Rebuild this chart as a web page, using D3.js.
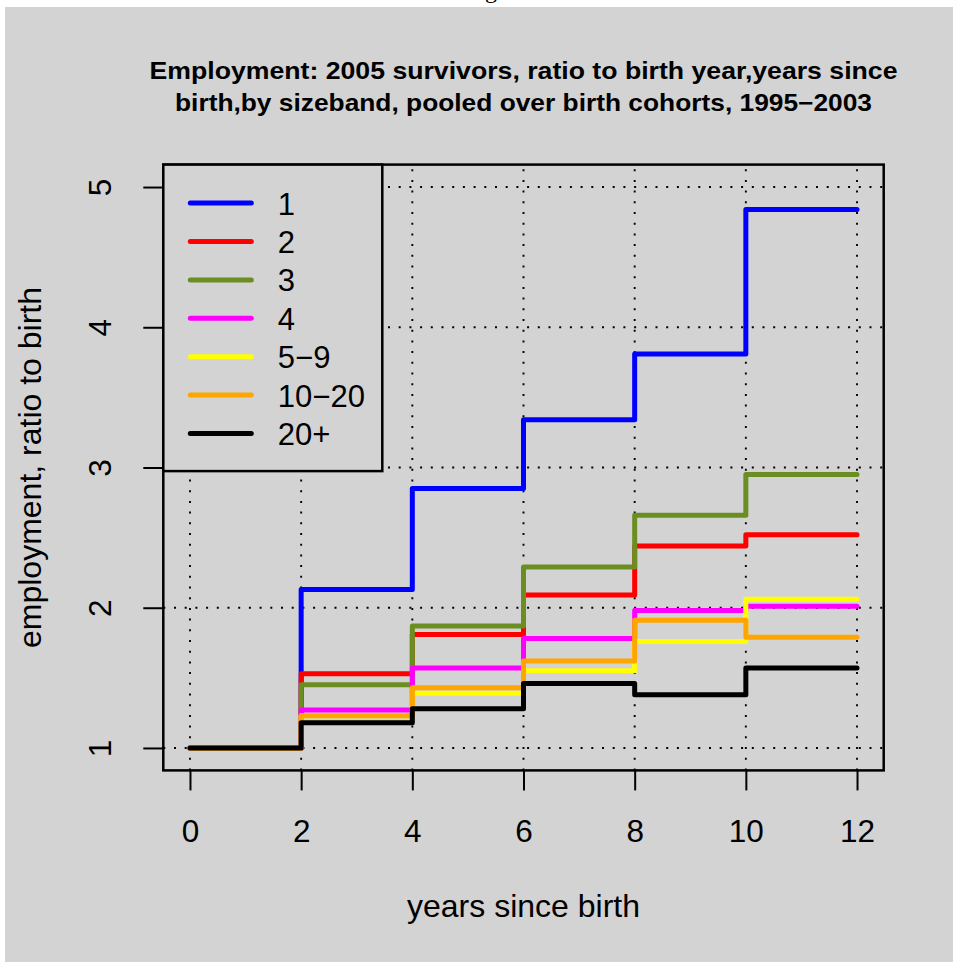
<!DOCTYPE html>
<html>
<head>
<meta charset="utf-8">
<script src="https://cdn.jsdelivr.net/npm/d3@7"></script>
<style>
  html, body { margin: 0; padding: 0; background: #ffffff; }
  svg { display: block; }
  text { font-family: "Liberation Sans", Arial, Helvetica, sans-serif; fill: #000; }
</style>
</head>
<body>
<svg id="chart" width="953" height="962"></svg>
<script>
// Years since birth at which each sizeband is observed
const years = [0, 2, 4, 6, 8, 10, 12];

// Employment ratio to birth year, one array per sizeband
const band1      = [1.00, 2.13, 2.85, 3.34, 3.81, 4.84, 4.84];
const band2      = [1.00, 1.53, 1.81, 2.09, 2.44, 2.52, 2.52];
const band3      = [1.00, 1.45, 1.87, 2.29, 2.66, 2.95, 2.95];
const band4      = [1.00, 1.27, 1.57, 1.78, 1.98, 2.01, 2.01];
const band5to9   = [1.00, 1.23, 1.39, 1.55, 1.76, 2.06, 2.06];
const band10to20 = [1.00, 1.23, 1.43, 1.62, 1.91, 1.79, 1.79];
const band20plus = [1.00, 1.18, 1.28, 1.46, 1.38, 1.57, 1.57];

const sizebandLabels = ["1", "2", "3", "4", "5\u22129", "10\u221220", "20+"];
const sizebandValues = [band1, band2, band3, band4, band5to9, band10to20, band20plus];

const xTickValues = [0, 2, 4, 6, 8, 10, 12];
const yTickValues = [1, 2, 3, 4, 5];

const titleLines = [
  "Employment: 2005 survivors, ratio to birth year,years since",
  "birth,by sizeband, pooled over birth cohorts, 1995\u22122003"
];
const xLabel = "years since birth";
const yLabel = "employment, ratio to birth";

// Line colours, in sizeband order
const lineColours = ["#0000ff", "#ff0000", "#6b8e23", "#ff00ff", "#ffff00", "#ffa500", "#000000"];

// ---- layout ----
const plot = { left: 163.3, right: 883.7, top: 164.6, bottom: 770.4 };
const bg = "#d3d3d3";

const svg = d3.select("#chart");

// figure background
svg.append("rect").attr("x", 5).attr("y", 7).attr("width", 948).attr("height", 955).attr("fill", bg);
// descender of the caption line above the figure
svg.append("text").attr("x", 491).attr("y", -2).attr("text-anchor", "middle")
  .style("font-family", "'Liberation Serif', serif").style("font-size", "24px").text("g");

// scales padded by 4% of the data range on each side
const xExt = [0, 12], yExt = [1, 5];
const xPad = (xExt[1] - xExt[0]) * 0.04, yPad = (yExt[1] - yExt[0]) * 0.04;
const x = d3.scaleLinear().domain([xExt[0] - xPad, xExt[1] + xPad]).range([plot.left, plot.right]);
const y = d3.scaleLinear().domain([yExt[0] - yPad, yExt[1] + yPad]).range([plot.bottom, plot.top]);

// dotted grid
const grid = svg.append("g").attr("stroke", "#000").attr("stroke-width", 1.9)
  .attr("stroke-dasharray", "2,8.7").attr("fill", "none");
grid.selectAll("line.v").data(xTickValues).join("line").attr("class", "v")
  .attr("x1", d => x(d)).attr("x2", d => x(d))
  .attr("y1", plot.bottom).attr("y2", plot.top);
grid.selectAll("line.h").data(yTickValues).join("line").attr("class", "h")
  .attr("x1", plot.left).attr("x2", plot.right)
  .attr("y1", d => y(d)).attr("y2", d => y(d));

// step lines
const line = d3.line()
  .x((d, i) => x(years[i]))
  .y(d => y(d))
  .curve(d3.curveStepAfter);

svg.append("g").selectAll("path").data(sizebandValues).join("path")
  .attr("d", d => line(d))
  .attr("fill", "none")
  .attr("stroke", (d, i) => lineColours[i])
  .attr("stroke-width", 5)
  .attr("stroke-linejoin", "round")
  .attr("stroke-linecap", "round");

// axes
const xAxis = svg.append("g").attr("transform", `translate(0,${plot.bottom})`)
  .call(d3.axisBottom(x).tickValues(xTickValues).tickSize(20).tickFormat(d3.format("d")));
xAxis.select(".domain").remove();
xAxis.selectAll(".tick line").attr("stroke", "#000").attr("stroke-width", 2);
xAxis.selectAll(".tick text").attr("y", 71.3).attr("dy", null)
  .style("font-size", "31.5px").attr("fill", "#000");

const yAxis = svg.append("g").attr("transform", `translate(${plot.left},0)`)
  .call(d3.axisLeft(y).tickValues(yTickValues).tickSize(20).tickFormat(d3.format("d")));
yAxis.select(".domain").remove();
yAxis.selectAll(".tick line").attr("stroke", "#000").attr("stroke-width", 2);
yAxis.selectAll(".tick text")
  .attr("x", null).attr("dy", null).attr("y", null)
  .attr("text-anchor", "middle")
  .attr("transform", "translate(-52,0) rotate(-90)")
  .style("font-size", "31.5px").attr("fill", "#000");

// plot frame
svg.append("rect")
  .attr("x", plot.left).attr("y", plot.top)
  .attr("width", plot.right - plot.left).attr("height", plot.bottom - plot.top)
  .attr("fill", "none").attr("stroke", "#000").attr("stroke-width", 2.5);

// legend
const legend = { left: plot.left, top: plot.top, width: 219, height: 306.5, rowStart: 38.5, rowStep: 38.4 };
const lg = svg.append("g");
lg.append("rect").attr("x", legend.left).attr("y", legend.top)
  .attr("width", legend.width).attr("height", legend.height)
  .attr("fill", bg).attr("stroke", "#000").attr("stroke-width", 2.5);
const rows = lg.selectAll("g.row").data(sizebandLabels).join("g").attr("class", "row")
  .attr("transform", (d, i) => `translate(${legend.left},${legend.top + legend.rowStart + i * legend.rowStep})`);
rows.append("line").attr("x1", 27).attr("x2", 88).attr("y1", 0).attr("y2", 0)
  .attr("stroke", (d, i) => lineColours[i]).attr("stroke-width", 5).attr("stroke-linecap", "round");
rows.append("text").attr("x", 114.5).attr("y", 11.5).style("font-size", "31px").text(d => d);

// titles
svg.append("g").selectAll("text").data(titleLines).join("text")
  .attr("x", (plot.left + plot.right) / 2)
  .attr("y", (d, i) => 78.5 + i * 32)
  .attr("text-anchor", "middle")
  .style("font-size", "24px").style("font-weight", "bold")
  .attr("textLength", (d, i) => i === 0 ? 748 : 697)
  .attr("lengthAdjust", "spacingAndGlyphs")
  .text(d => d);

svg.append("text").attr("x", (plot.left + plot.right) / 2).attr("y", 916.5)
  .attr("text-anchor", "middle").style("font-size", "32px").text(xLabel);

svg.append("text").attr("transform", `translate(41,${(plot.top + plot.bottom) / 2}) rotate(-90)`)
  .attr("text-anchor", "middle").style("font-size", "32px").text(yLabel);
</script>
</body>
</html>
